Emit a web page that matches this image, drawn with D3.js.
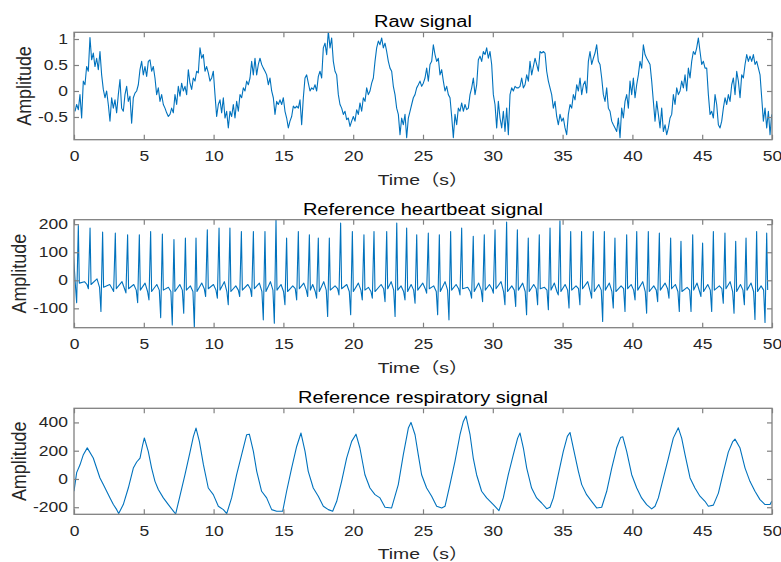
<!DOCTYPE html>
<html>
<head>
<meta charset="utf-8">
<script src="https://cdn.jsdelivr.net/npm/d3@7"></script>
<style>
  body { margin: 0; background: #fff; }
  svg { font-family: "Liberation Sans", Arial, "Noto Sans CJK SC", sans-serif; }
  .tick text { fill: #262626; font-size: 14px; }
  .tick line { stroke: #808080; stroke-width: 1.2; }
  .box { fill: none; stroke: #808080; stroke-width: 1.3; }
  .signal { fill: none; stroke: #0072bd; stroke-width: 1.1; stroke-linejoin: round; }
</style>
</head>
<body>
<script>
const width = 781,
  height = 562,
  left = 74,
  right = 772,
  sx = 1.25; // the figure text is stretched horizontally

const timeTicks = [0, 5, 10, 15, 20, 25, 30, 35, 40, 45, 50];
const rawTicks = [-0.5, 0, 0.5, 1];
const heartTicks = [-100, 0, 100, 200];
const respTicks = [-200, 0, 200, 400];

// Raw signal, sampled every rawStep seconds from rawStart
const rawStart = 0.07,
  rawStep = 0.1194;
const rawSignal = [
  -0.39, -0.26, -0.36, -0.07, -0.52, 0.19, 0.12, 0.47, 0.38, 1.03,
  0.6, 0.73, 0.47, 0.63, 0.41, 0.76, 0.31, 0.03, -0.13, 0.0,
  -0.26, -0.58, -0.13, -0.33, -0.17, -0.42, -0.07, 0.22, -0.33, -0.39,
  -0.07, 0.09, -0.2, -0.1, -0.62, -0.13, -0.04, 0.0, 0.12, 0.41,
  0.57, 0.31, 0.47, 0.28, 0.57, 0.6, 0.38, 0.47, 0.25, -0.07,
  0.06, -0.2, -0.07, -0.26, -0.33, -0.42, -0.49, -0.45, -0.33, -0.42,
  -0.07, -0.26, 0.09, -0.1, 0.15, 0.0, 0.09, -0.07, 0.41, 0.15,
  0.03, 0.25, 0.19, 0.38, 0.35, 0.83, 0.63, 0.7, 0.38, 0.47,
  0.35, 0.19, 0.25, 0.38, -0.07, -0.49, -0.26, -0.17, -0.42, -0.13,
  -0.52, -0.39, -0.71, -0.39, -0.49, -0.26, -0.52, -0.2, -0.39, -0.07,
  -0.13, 0.06, 0.0, 0.19, 0.12, 0.25, 0.57, 0.31, 0.63, 0.31,
  0.51, 0.63, 0.51, 0.44, 0.38, 0.31, 0.12, 0.25, 0.0, -0.13,
  -0.45, -0.2, -0.26, -0.17, -0.26, -0.13, -0.39, -0.52, -0.71, -0.58,
  -0.49, -0.29, -0.33, -0.29, -0.33, -0.17, -0.65, -0.13, 0.25, 0.31,
  0.15,
  0.0, 0.06, 0.03, 0.12, 0.0, 0.28, 0.38, 0.25, 0.83, 0.92,
  0.7, 1.15, 0.83, 1.02, 0.57, 0.38, 0.31, -0.07, -0.26, -0.33,
  -0.45, -0.39, -0.55, -0.52, -0.68, -0.58, -0.49, -0.58, -0.36, -0.45,
  -0.23, -0.39, -0.13, -0.2, 0.06, -0.07, 0.0, 0.15, 0.25, 0.57,
  0.83, 0.96, 0.89, 1.02, 0.83, 0.92, 0.76, 0.57, 0.44, 0.38,
  0.09, -0.07, -0.33, -0.45, -0.84, -0.52, -0.65, -0.45, -0.9, -0.52,
  -0.39, -0.26, -0.13, -0.07, 0.06, 0.12, 0.19, 0.09, 0.15, 0.25,
  0.44, 0.19, 0.51, 0.57, 0.89, 0.7, 0.57, 0.63, 0.31, 0.41,
  0.19, 0.0, 0.09, -0.07, -0.13, -0.49, -0.9, -0.45, -0.65, -0.33,
  -0.39, -0.23, -0.39, -0.26, -0.36, -0.33, -0.07, 0.06, 0.25, -0.07,
  0.12, 0.6, 0.67, 0.57, 0.76, 0.7, 0.83, 0.63, 0.76, 0.51,
  -0.07, -0.26, -0.71, -0.2, -0.52, -0.71, -0.39, -0.78, -0.33, -0.84,
  -0.07, 0.06, 0.0, 0.09, 0.06, 0.06, 0.09, 0.25, 0.06, 0.12,
  0.31, 0.19, 0.57, 0.31, 0.47, 0.63, 0.51, 0.38,
  0.76, 0.73, 0.76, 0.73, 0.38, 0.19, 0.06, -0.07, -0.33, -0.2,
  -0.49, -0.65, -0.45, -0.58, -0.52, -0.71, -0.84, -0.45, -0.26, -0.33,
  -0.07, -0.17, 0.12, 0.0, 0.25, -0.07, 0.12, 0.19, -0.04, 0.57,
  0.76, 0.51, 0.63, 0.73, 0.89, 0.57, 0.51, 0.25, -0.07, -0.2,
  0.06, -0.33, -0.39, -0.58, -0.65, -0.71, -0.78, -0.52, -0.9, -0.33,
  -0.52, -0.2, -0.07, -0.33, 0.19, -0.07, 0.25, -0.13, 0.12, 0.31,
  0.57, 0.44, 0.89, 0.7, 0.63, 0.57, 0.51, 0.19, -0.2, -0.58,
  -0.2, -0.45, -0.71, -0.33, -0.78, -0.65, -0.84, -0.71, -0.52, -0.45,
  -0.07, -0.26, 0.06, -0.07, 0.0, 0.19, 0.06, 0.31, 0.0, 0.44,
  0.25, 0.57, 0.76, 0.7, 0.83, 1.02, 0.76, 0.51, 0.57, 0.44,
  0.44, -0.07, -0.45, -0.39, -0.52, -0.07, -0.26, -0.65, -0.71, -0.58,
  -0.33, -0.13, -0.26, -0.07, -0.2, 0.12, 0.25, -0.07, 0.38, 0.19,
  -0.13, 0.31, 0.25, 0.51, 0.7, 0.57, 0.67, 0.57, 0.7, 0.51,
  0.57, 0.44, 0.31, -0.13, -0.58, -0.33, -0.71, -0.39, -0.84, -0.45,
];

// Heartbeat: one row per beat [peak time, peak, trough, bump, baseline]
const heartBeats = [
  [0.31, 195, -80, 130, -10], [1.15, 186, -30, -5, -15], [2.05, 172, -111, 5, -25],
  [2.96, 168, -40, -15, -30], [3.84, 162, -45, -5, -30], [4.68, 162, -80, -15, -35],
  [5.49, 174, -70, -10, -40], [6.33, 165, -133, -15, -35], [7.16, 145, -159, -25, -40],
  [7.98, 151, -117, -15, -35], [8.74, 151, -168, -20, -40], [9.55, 180, -58, -10, -30],
  [10.39, 186, -64, -15, -35], [11.17, 186, -87, -5, -40], [11.99, 174, -58, -20, -35],
  [12.85, 174, -58, -15, -30], [13.68, 174, -141, -10, -40], [14.47, 215, -153, -5, -35],
  [15.23, 151, -87, -15, -40], [16.07, 174, -70, -20, -30], [16.86, 162, -58, -10, -35],
  [17.5, 151, -64, -15, -40], [18.29, 151, -129, -5, -35], [19.1, 204, -52, -20, -30],
  [19.94, 174, -123, -15, -40], [20.77, 162, -70, -10, -35], [21.49, 174, -64, -25, -40],
  [22.4, 174, -76, -15, -30], [23.12, 204, -129, -5, -35], [23.83, 186, -70, -20, -40],
  [24.55, 162, -82, -15, -35], [25.38, 168, -46, -10, -30], [26.17, 162, -123, -20, -40],
  [26.98, 174, -141, -5, -35], [27.77, 186, -52, -15, -30], [28.6, 157, -64, -25, -40],
  [29.39, 162, -76, -10, -35], [30.16, 180, -46, -15, -30], [30.99, 208, -87, -5, -40],
  [31.76, 180, -93, -20, -35], [32.54, 151, -123, -10, -40], [33.33, 162, -87, -15, -30],
  [34.1, 186, -105, -25, -35], [34.81, 212, -52, -10, -40], [35.58, 174, -99, -15, -35],
  [36.36, 174, -87, -20, -30], [37.2, 174, -64, -5, -40], [37.99, 174, -147, -15, -35],
  [38.75, 151, -99, -10, -40], [39.59, 162, -111, -20, -30], [40.31, 174, -70, -15, -35],
  [41.14, 174, -117, -5, -40], [41.93, 168, -76, -20, -35], [42.74, 151, -64, -10, -30],
  [43.48, 139, -111, -15, -40], [44.32, 162, -111, -25, -35], [45.03, 133, -58, -10, -40],
  [45.8, 174, -111, -15, -35], [46.63, 168, -82, -20, -30], [47.4, 139, -117, -5, -40],
  [48.14, 151, -87, -15, -35], [48.9, 174, -140, -10, -40], [49.62, 168, -150, -20, -35],
];

// Respiratory signal vertices
const respTime = [
  0, 0.19, 0.43, 0.67, 0.95, 1.38, 1.86, 2.1, 2.34, 2.58, 2.82, 3.06, 3.2, 3.53, 3.89,
  4.25, 4.49, 4.73, 4.92, 5.04, 5.32, 5.56, 5.8, 6.04, 6.4, 6.76, 7.12, 7.28, 7.59, 7.95,
  8.31, 8.55, 8.74, 8.98, 9.27, 9.62, 9.98, 10.34, 10.7, 10.94, 11.29, 11.65, 12.01, 12.37,
  12.56, 12.85, 13.09, 13.44, 13.8, 14.16, 14.52, 14.95, 15.23, 15.59, 15.95, 16.26, 16.55,
  16.78, 17.14, 17.5, 17.86, 18.22, 18.53, 18.82, 19.17, 19.53, 19.89, 20.2, 20.48, 20.84,
  21.2, 21.56, 21.92, 22.28, 22.75, 23.23, 23.59, 23.95, 24.14, 24.43, 24.66, 24.9, 25.26,
  25.62, 25.98, 26.34, 26.58, 26.93, 27.29, 27.65, 27.89, 28.08, 28.37, 28.6, 28.84, 29.2,
  29.56, 30.04, 30.44, 30.75, 31.11, 31.47, 31.78, 31.95, 32.19, 32.43, 32.78, 33.14, 33.5,
  33.86, 34.1, 34.34, 34.69, 35.05, 35.34, 35.53, 35.77, 36.13, 36.37, 36.72, 37.08, 37.44,
  37.8, 38.16, 38.52, 38.87, 39.16, 39.31, 39.59, 39.95, 40.31, 40.66, 41.02, 41.38, 41.62,
  41.86, 42.22, 42.58, 42.93, 43.29, 43.53, 43.77, 44.13, 44.48, 44.84, 45.2, 45.44, 45.8,
  46.16, 46.52, 46.87, 47.19, 47.35, 47.71, 48.07, 48.42, 48.78, 49.14, 49.5, 49.86, 49.98,
];
const respValue = [
  -87, 45, 100, 172, 220, 148, 7, -40, -87, -134, -181, -217, -245, -181, -64,
  77, 120, 148, 242, 290, 195, 77, -17, -75, -134, -181, -228, -248, -120, 30,
  190, 300, 360, 266, 101, -64, -111, -193, -217, -245, -134, 30, 172, 313,
  317, 195, 54, -87, -134, -217, -228, -228, -87, 77, 230, 325, 195,
  54, -64, -122, -193, -217, -228, -158, -17, 148, 266, 317, 219, 30,
  -64, -111, -134, -200, -205, -40, 172, 360, 400, 313, 172, 30, -64,
  -122, -193, -205, -193, -40, 125, 313, 407, 445, 313, 148, 30, -87,
  -134, -181, -224, -134, 30, 172, 289, 325, 219, 77, -64, -134, -170,
  -210, -200, -134, 30, 195, 301, 329, 219, 54, -40, -111, -158, -205,
  -200, -87, 77, 219, 294, 299, 195, 30, -64, -134, -181, -212, -193,
  -134, 7, 148, 289, 362, 289, 172, 7, -64, -122, -158, -193, -185,
  -100, 50, 190, 265, 282, 219, 77, -17, -87, -146, -181, -181, -158,
];

const panels = [
  { title: "Raw signal", top: 32.3, bottom: 139.7, domain: [-0.937, 1.129], ticks: rawTicks, labelX: 30.5,
    points: rawSignal.map((v, i) => [rawStart + i * rawStep, v]) },
  { title: "Reference heartbeat signal", top: 219.7, bottom: 327.7, domain: [-169, 216], ticks: heartTicks, labelX: 26,
    points: beatPoints(heartBeats) },
  { title: "Reference respiratory signal", top: 408.3, bottom: 514.3, domain: [-250, 500], ticks: respTicks, labelX: 26,
    points: respTime.map((t, i) => [t, respValue[i]]) },
];

// Vertices of each beat: small bump, baseline, dip, spike, back to baseline
function beatPoints(rows) {
  const pts = [];
  rows.forEach(([t, peak, trough, bump, base]) => {
    pts.push([t - 0.4, bump], [t - 0.22, base], [t - 0.12, trough], [t, peak], [t + 0.07, base]);
  });
  return pts;
}

const svg = d3
  .select("body")
  .append("svg")
  .attr("width", width)
  .attr("height", height);

const x = d3.scaleLinear().domain([0, 50]).range([left, right]);

panels.forEach((p, i) => {
  const y = d3.scaleLinear().domain(p.domain).range([p.bottom, p.top]);
  const g = svg.append("g");

  g.append("clipPath")
    .attr("id", "clip-" + i)
    .append("rect")
    .attr("x", left)
    .attr("y", p.top)
    .attr("width", right - left)
    .attr("height", p.bottom - p.top);

  g.append("path")
    .datum(p.points)
    .attr("class", "signal")
    .attr("clip-path", `url(#clip-${i})`)
    .attr("d", d3.line().x((d) => x(d[0])).y((d) => y(d[1])));

  // Axes with inward ticks on all four sides
  const bottomAxis = g
    .append("g")
    .attr("transform", `translate(0,${p.bottom})`)
    .call(d3.axisBottom(x).tickValues(timeTicks).tickSizeInner(-5).tickSizeOuter(0).tickPadding(11.5).tickFormat(String));
  bottomAxis.selectAll(".tick text").attr("transform", `scale(${sx},1)`);

  g.append("g")
    .attr("transform", `translate(0,${p.top})`)
    .call(d3.axisTop(x).tickValues(timeTicks).tickSizeInner(-5).tickSizeOuter(0).tickFormat(""));

  const leftAxis = g
    .append("g")
    .attr("transform", `translate(${left},0)`)
    .call(d3.axisLeft(y).tickValues(p.ticks).tickSizeInner(-5).tickSizeOuter(0).tickFormat(String));
  leftAxis.selectAll(".tick text").attr("x", -6 / sx).attr("transform", `scale(${sx},1)`);

  g.append("g")
    .attr("transform", `translate(${right},0)`)
    .call(d3.axisRight(y).tickValues(p.ticks).tickSizeInner(-5).tickSizeOuter(0).tickFormat(""));

  g.selectAll(".domain").remove();

  g.append("rect")
    .attr("class", "box")
    .attr("x", left)
    .attr("y", p.top)
    .attr("width", right - left)
    .attr("height", p.bottom - p.top);

  // Title
  g.append("text")
    .attr("transform", `translate(${(left + right) / 2},${p.top - 5}) scale(${sx},1)`)
    .attr("text-anchor", "middle")
    .style("font-size", "16px")
    .style("fill", "#000")
    .text(p.title);

  // x label
  g.append("text")
    .attr("transform", `translate(${(left + right) / 2},${p.bottom + 45}) scale(${sx},1)`)
    .attr("text-anchor", "middle")
    .style("font-size", "15.5px")
    .style("fill", "#262626")
    .text("Time（s）");

  // y label
  g.append("text")
    .attr("transform", `translate(${p.labelX},${(p.top + p.bottom) / 2}) scale(${sx},1.12) rotate(-90)`)
    .attr("text-anchor", "middle")
    .style("font-size", "16px")
    .style("fill", "#262626")
    .text("Amplitude");
});
</script>
</body>
</html>
